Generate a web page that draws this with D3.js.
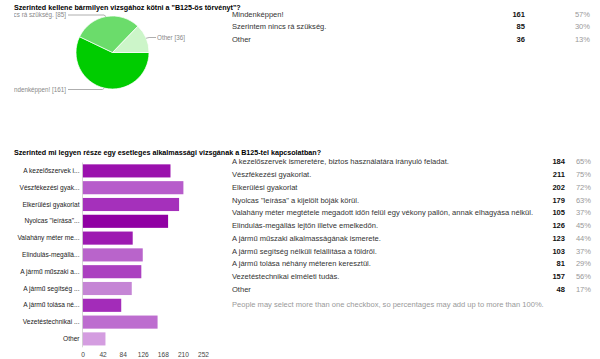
<!DOCTYPE html>
<html>
<head>
<meta charset="utf-8">
<script src="https://cdn.jsdelivr.net/npm/d3@7"></script>
<style>
  body { margin: 0; background: #fff; }
  svg { display: block; font-family: "Liberation Sans", Arial, sans-serif; }
</style>
</head>
<body>
<svg id="chart" width="600" height="359"></svg>
<script>
const title1 = 'Szerinted kellene bármilyen vizsgához kötni a "B125-ös törvényt"?';
const title2 = 'Szerinted mi legyen része egy esetleges alkalmassági vizsgának a B125-tel kapcsolatban?';
const footnote = 'People may select more than one checkbox, so percentages may add up to more than 100%.';

const pieLabels = ["Mindenképpen!", "Szerintem nincs rá szükség.", "Other"];
const pieCounts = [161, 85, 36];
const piePcts = [57, 30, 13];
const pieColors = ["#00cc00", "#6bdc6b", "#ccf5c9"];

const barLabels = [
    "A kezelőszervek ismeretére, biztos használatára irányuló feladat.",
    "Vészfékezési gyakorlat.",
    "Elkerülési gyakorlat",
    "Nyolcas \"leírása\" a kijelölt bóják körül.",
    "Valahány méter megtétele megadott időn felül egy vékony pallón, annak elhagyása nélkül.",
    "Elindulás-megállás lejtőn illetve emelkedőn.",
    "A jármű műszaki alkalmasságának ismerete.",
    "A jármű segítség nélküli felállítása a földről.",
    "A jármű tolása néhány méteren keresztül.",
    "Vezetéstechnikai elméleti tudás.",
    "Other"
];
const barCounts = [184, 211, 202, 179, 105, 126, 123, 103, 81, 157, 48];
const barPcts = [65, 75, 72, 63, 37, 45, 44, 37, 29, 56, 17];
const barColors = ["#9a10ad", "#b75ccb", "#a530bb", "#9000a3", "#9d1ab1", "#b964cb",
                   "#ab40c0", "#c585d5", "#a32cb9", "#bd6dcf", "#d49de0"];
const xTicks = [0, 42, 84, 126, 168, 210, 252];

const svg = d3.select("#chart");

// scale a text group so one reference string gets the wanted width
const fitSize = (str, weight, target) => {
    const t = svg.append("text").attr("font-size", 10).attr("font-weight", weight).text(str);
    const w = t.node().getComputedTextLength();
    t.remove();
    return 10 * target / w;
};

const titleSize = fitSize(title1, "bold", 227);
const rowSize = fitSize(barLabels[0], "normal", 217);
const barLabelSize = fitSize("Vészfékezési gyak...", "normal", 60);
const pieLabelSize = fitSize("Other [36]", "normal", 28);

const shortLabel = s => s.length > 20 ? s.slice(0, 17) + "..." : s;

// ---- titles
svg.append("text")
    .attr("x", 14).attr("y", 9.5)
    .attr("font-size", titleSize).attr("font-weight", "bold").attr("fill", "#000")
    .text(title1);

svg.append("text")
    .attr("x", 14).attr("y", 154.5)
    .attr("font-size", titleSize).attr("font-weight", "bold").attr("fill", "#000")
    .text(title2);

// ---- pie
svg.append("clipPath").attr("id", "pieClip")
    .append("rect").attr("x", 14).attr("y", 10).attr("width", 200).attr("height", 130);

const pieG = svg.append("g").attr("clip-path", "url(#pieClip)");
const cx = 112.5, cy = 52.5, r = 36.5;

const pie = d3.pie().sort(null)
    .startAngle(Math.PI / 2).endAngle(Math.PI / 2 + 2 * Math.PI);
const arcs = pie(pieCounts);
const arc = d3.arc().innerRadius(0).outerRadius(r);

pieG.append("g").attr("transform", `translate(${cx},${cy})`)
    .selectAll("path").data(arcs).enter().append("path")
    .attr("d", arc)
    .attr("fill", (d, i) => pieColors[i])
    .attr("stroke", "#fff").attr("stroke-width", 0.7);

// callouts: label y, side
const callouts = [
    { y: 89.5, side: "left" },
    { y: 15, side: "left" },
    { y: 37.5, side: "right" }
];
arcs.forEach((d, i) => {
    const a = (d.startAngle + d.endAngle) / 2;
    const ex = cx + r * Math.sin(a), ey = cy - r * Math.cos(a);
    const c = callouts[i];
    const lx = c.side === "left" ? 68 : 156;
    const kx = c.side === "left" ? ex - 2 : ex + 3;
    pieG.append("polyline")
        .attr("points", `${ex},${ey} ${kx},${c.y} ${lx},${c.y}`)
        .attr("fill", "none").attr("stroke", "#999").attr("stroke-width", 0.8);
    pieG.append("text")
        .attr("x", c.side === "left" ? lx - 2 : lx + 1)
        .attr("y", c.y).attr("dy", "0.35em")
        .attr("text-anchor", c.side === "left" ? "end" : "start")
        .attr("font-size", pieLabelSize).attr("fill", "#888")
        .text(`${pieLabels[i]} [${pieCounts[i]}]`);
});

// ---- table rows
const renderTable = (labels, counts, pcts, y0, step, countX, pctX) => {
    const g = svg.append("g").attr("font-size", rowSize);
    labels.forEach((lab, i) => {
        const y = y0 + i * step;
        g.append("text").attr("x", 232).attr("y", y).attr("dy", "0.35em")
            .attr("fill", "#333").text(lab);
        g.append("text").attr("x", countX).attr("y", y).attr("dy", "0.35em")
            .attr("text-anchor", "end").attr("font-weight", "bold").attr("fill", "#111")
            .text(counts[i]);
        g.append("text").attr("x", pctX).attr("y", y).attr("dy", "0.35em")
            .attr("text-anchor", "end").attr("fill", "#999")
            .text(pcts[i] + "%");
    });
};

renderTable(pieLabels, pieCounts, piePcts, 14.5, 12.3, 525, 590);
renderTable(barLabels, barCounts, barPcts, 161.7, 12.76, 565, 591);

svg.append("text")
    .attr("x", 232).attr("y", 304.5).attr("dy", "0.35em")
    .attr("font-size", rowSize).attr("fill", "#999")
    .text(footnote);

// ---- bar chart
const xScale = d3.scaleLinear().domain([0, 252]).range([82.5, 203]);
const yScale = d3.scaleBand().domain(barLabels)
    .range([162.5, 347.3]).paddingInner(0.22).paddingOuter(0.11);

const barG = svg.append("g");

barG.selectAll("rect").data(barCounts).enter().append("rect")
    .attr("x", xScale(0))
    .attr("y", (d, i) => yScale(barLabels[i]))
    .attr("width", d => xScale(d) - xScale(0))
    .attr("height", yScale.bandwidth())
    .attr("fill", (d, i) => barColors[i]);

barG.append("line")
    .attr("x1", xScale(0)).attr("x2", xScale(0))
    .attr("y1", 162.5).attr("y2", 347.3)
    .attr("stroke", "#ccc").attr("stroke-width", 0.8);

const yAxis = d3.axisLeft(yScale).tickSize(0).tickPadding(3).tickFormat(shortLabel);
const yAxisG = barG.append("g").attr("transform", `translate(${xScale(0)},0)`).call(yAxis);
yAxisG.selectAll(".domain").remove();
yAxisG.selectAll("text")
    .attr("font-size", barLabelSize).attr("fill", "#222")
    .attr("font-family", "Liberation Sans, Arial, sans-serif");

const xAxis = d3.axisBottom(xScale).tickValues(xTicks).tickSize(0).tickPadding(5);
const xAxisG = barG.append("g").attr("transform", "translate(0,347.5)").call(xAxis);
xAxisG.selectAll(".domain").remove();
xAxisG.selectAll("text")
    .attr("font-size", barLabelSize).attr("fill", "#444")
    .attr("font-family", "Liberation Sans, Arial, sans-serif");
</script>
</body>
</html>
